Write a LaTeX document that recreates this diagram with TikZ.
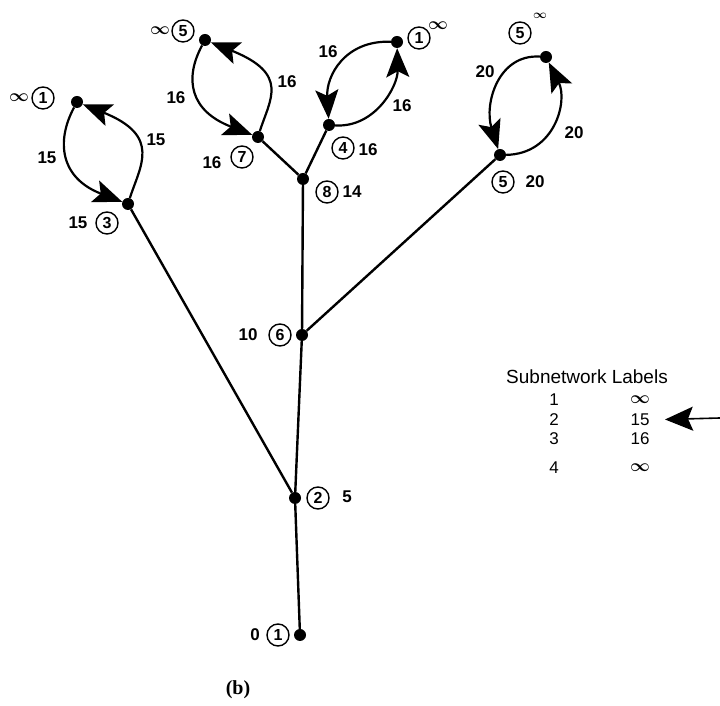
\documentclass[tikz,border=0pt]{standalone}
\usepackage{fontspec}
\setmainfont{Liberation Sans}
\newfontfamily\capfont{Liberation Serif}
\usetikzlibrary{arrows.meta}

\begin{document}
\begin{tikzpicture}[x=1pt,y=1pt,
    dot/.style={circle,fill,inner sep=0pt,minimum size=12pt},
    num/.style={circle,draw,line width=1.4pt,inner sep=0pt,minimum size=22pt,
        font=\bfseries\fontsize{16}{16}\selectfont},
    lab/.style={inner sep=1pt,font=\bfseries\boldmath\fontsize{17}{17}\selectfont},
    leg/.style={inner sep=0pt,font=\boldmath\fontsize{17}{17}\selectfont},
    link/.style={line width=2.4pt},
    flow/.style={line width=2.2pt,-{Stealth[length=29pt,width=23pt,inset=6pt]}}]
    \useasboundingbox (0,0) rectangle (720,706);

    % tree nodes
    \node[dot] (r1) at (300,71) {};
    \node[dot] (n2) at (295,208) {};
    \node[dot] (n6) at (302,371) {};
    \node[dot] (n8) at (303,527) {};
    \node[dot] (n7) at (258,569) {};
    \node[dot] (n4) at (329,581) {};
    \node[dot] (n3) at (128,502) {};
    \node[dot] (n5) at (500,551) {};
    % ends of the loops
    \node[dot] (t3) at (77,604) {};
    \node[dot] (t7) at (205,666) {};
    \node[dot] (t4) at (397,664) {};
    \node[dot] (t5) at (546,649) {};

    \draw[link] (r1) -- (n2) -- (n6) -- (n8);
    \draw[link] (n2) -- (n3);
    \draw[link] (n6) -- (n5);
    \draw[link] (n8) -- (n7);
    \draw[link] (n8) -- (n4);

    % loops
    \draw[flow] (t3) .. controls (56,565) and (60,528) .. (n3);
    \draw[flow] (n3) .. controls (140,540) and (162,570) .. (t3);
    \draw[flow] (t7) .. controls (184,627) and (190,595) .. (n7);
    \draw[flow] (n7) .. controls (270,607) and (290,632) .. (t7);
    \draw[flow] (t4) .. controls (345,666) and (326,630) .. (n4);
    \draw[flow] (n4) .. controls (375,578) and (398,620) .. (t4);
    \draw[flow] (t5) .. controls (498,652) and (484,602) .. (n5);
    \draw[flow] (n5) .. controls (555,552) and (568,605) .. (t5);

    % labels
    \node[lab] (l0) at (255,71) {0};
    \node[num] (c1) at (278,71) {1};
    \node[num] (c2) at (318,208) {2};
    \node[lab] (l2) at (347,209) {5};
    \node[lab] (l6) at (248,371) {10};
    \node[num] (c6) at (280,371) {6};
    \node[lab] (l3) at (78,483) {15};
    \node[num] (c3) at (107,483) {3};
    \node[lab] (i3) at (19,608) {$\infty$};
    \node[num] (e3) at (43,608) {1};
    \node[lab] (w3a) at (47,548) {15};
    \node[lab] (w3b) at (156,566) {15};
    \node[lab] (i7) at (160,675) {$\infty$};
    \node[num] (e7) at (183,675) {5};
    \node[lab] (w7a) at (176,608) {16};
    \node[lab] (w7b) at (287,624) {16};
    \node[lab] (l7) at (212,543) {16};
    \node[num] (c7) at (242,549) {7};
    \node[num] (c8) at (327,514) {8};
    \node[lab] (l8) at (352,514) {14};
    \node[num] (c4) at (343,558) {4};
    \node[lab] (l4) at (368,556) {16};
    \node[lab] (w4a) at (328,654) {16};
    \node[lab] (w4b) at (402,600) {16};
    \node[num] (e4) at (419,668) {1};
    \node[lab] (i4) at (438,680) {$\infty$};
    \node[num] (e5) at (520,673) {5};
    \node[lab, font=\bfseries\boldmath\fontsize{13}{13}\selectfont] (i5) at (540,690) {$\infty$};
    \node[lab] (w5a) at (485,634) {20};
    \node[lab] (w5b) at (574,573) {20};
    \node[num] (c5) at (503,524) {5};
    \node[lab] (l5) at (535,524) {20};

    % legend
    \node[leg, font=\fontsize{19}{19}\selectfont] (title) at (587,329) {Subnetwork Labels};
    \node[leg] (k1) at (554,306) {1};
    \node[leg] (v1) at (640,306) {$\infty$};
    \node[leg] (k2) at (554,286.5) {2};
    \node[leg] (v2) at (640,286.5) {15};
    \node[leg] (k3) at (554,267) {3};
    \node[leg] (v3) at (640,267) {16};
    \node[leg] (k4) at (554,238) {4};
    \node[leg] (v4) at (640,238) {$\infty$};
    \coordinate (ptr) at (720,288);
    \coordinate (tip) at (665,286.5);
    \draw[line width=1.6pt,-{Stealth[length=28pt,width=24pt,inset=5pt]}] (ptr) -- (tip);

    \node[font=\capfont\bfseries\fontsize{20}{20}\selectfont] (cap) at (238,16) {(b)};
\end{tikzpicture}
\end{document}
